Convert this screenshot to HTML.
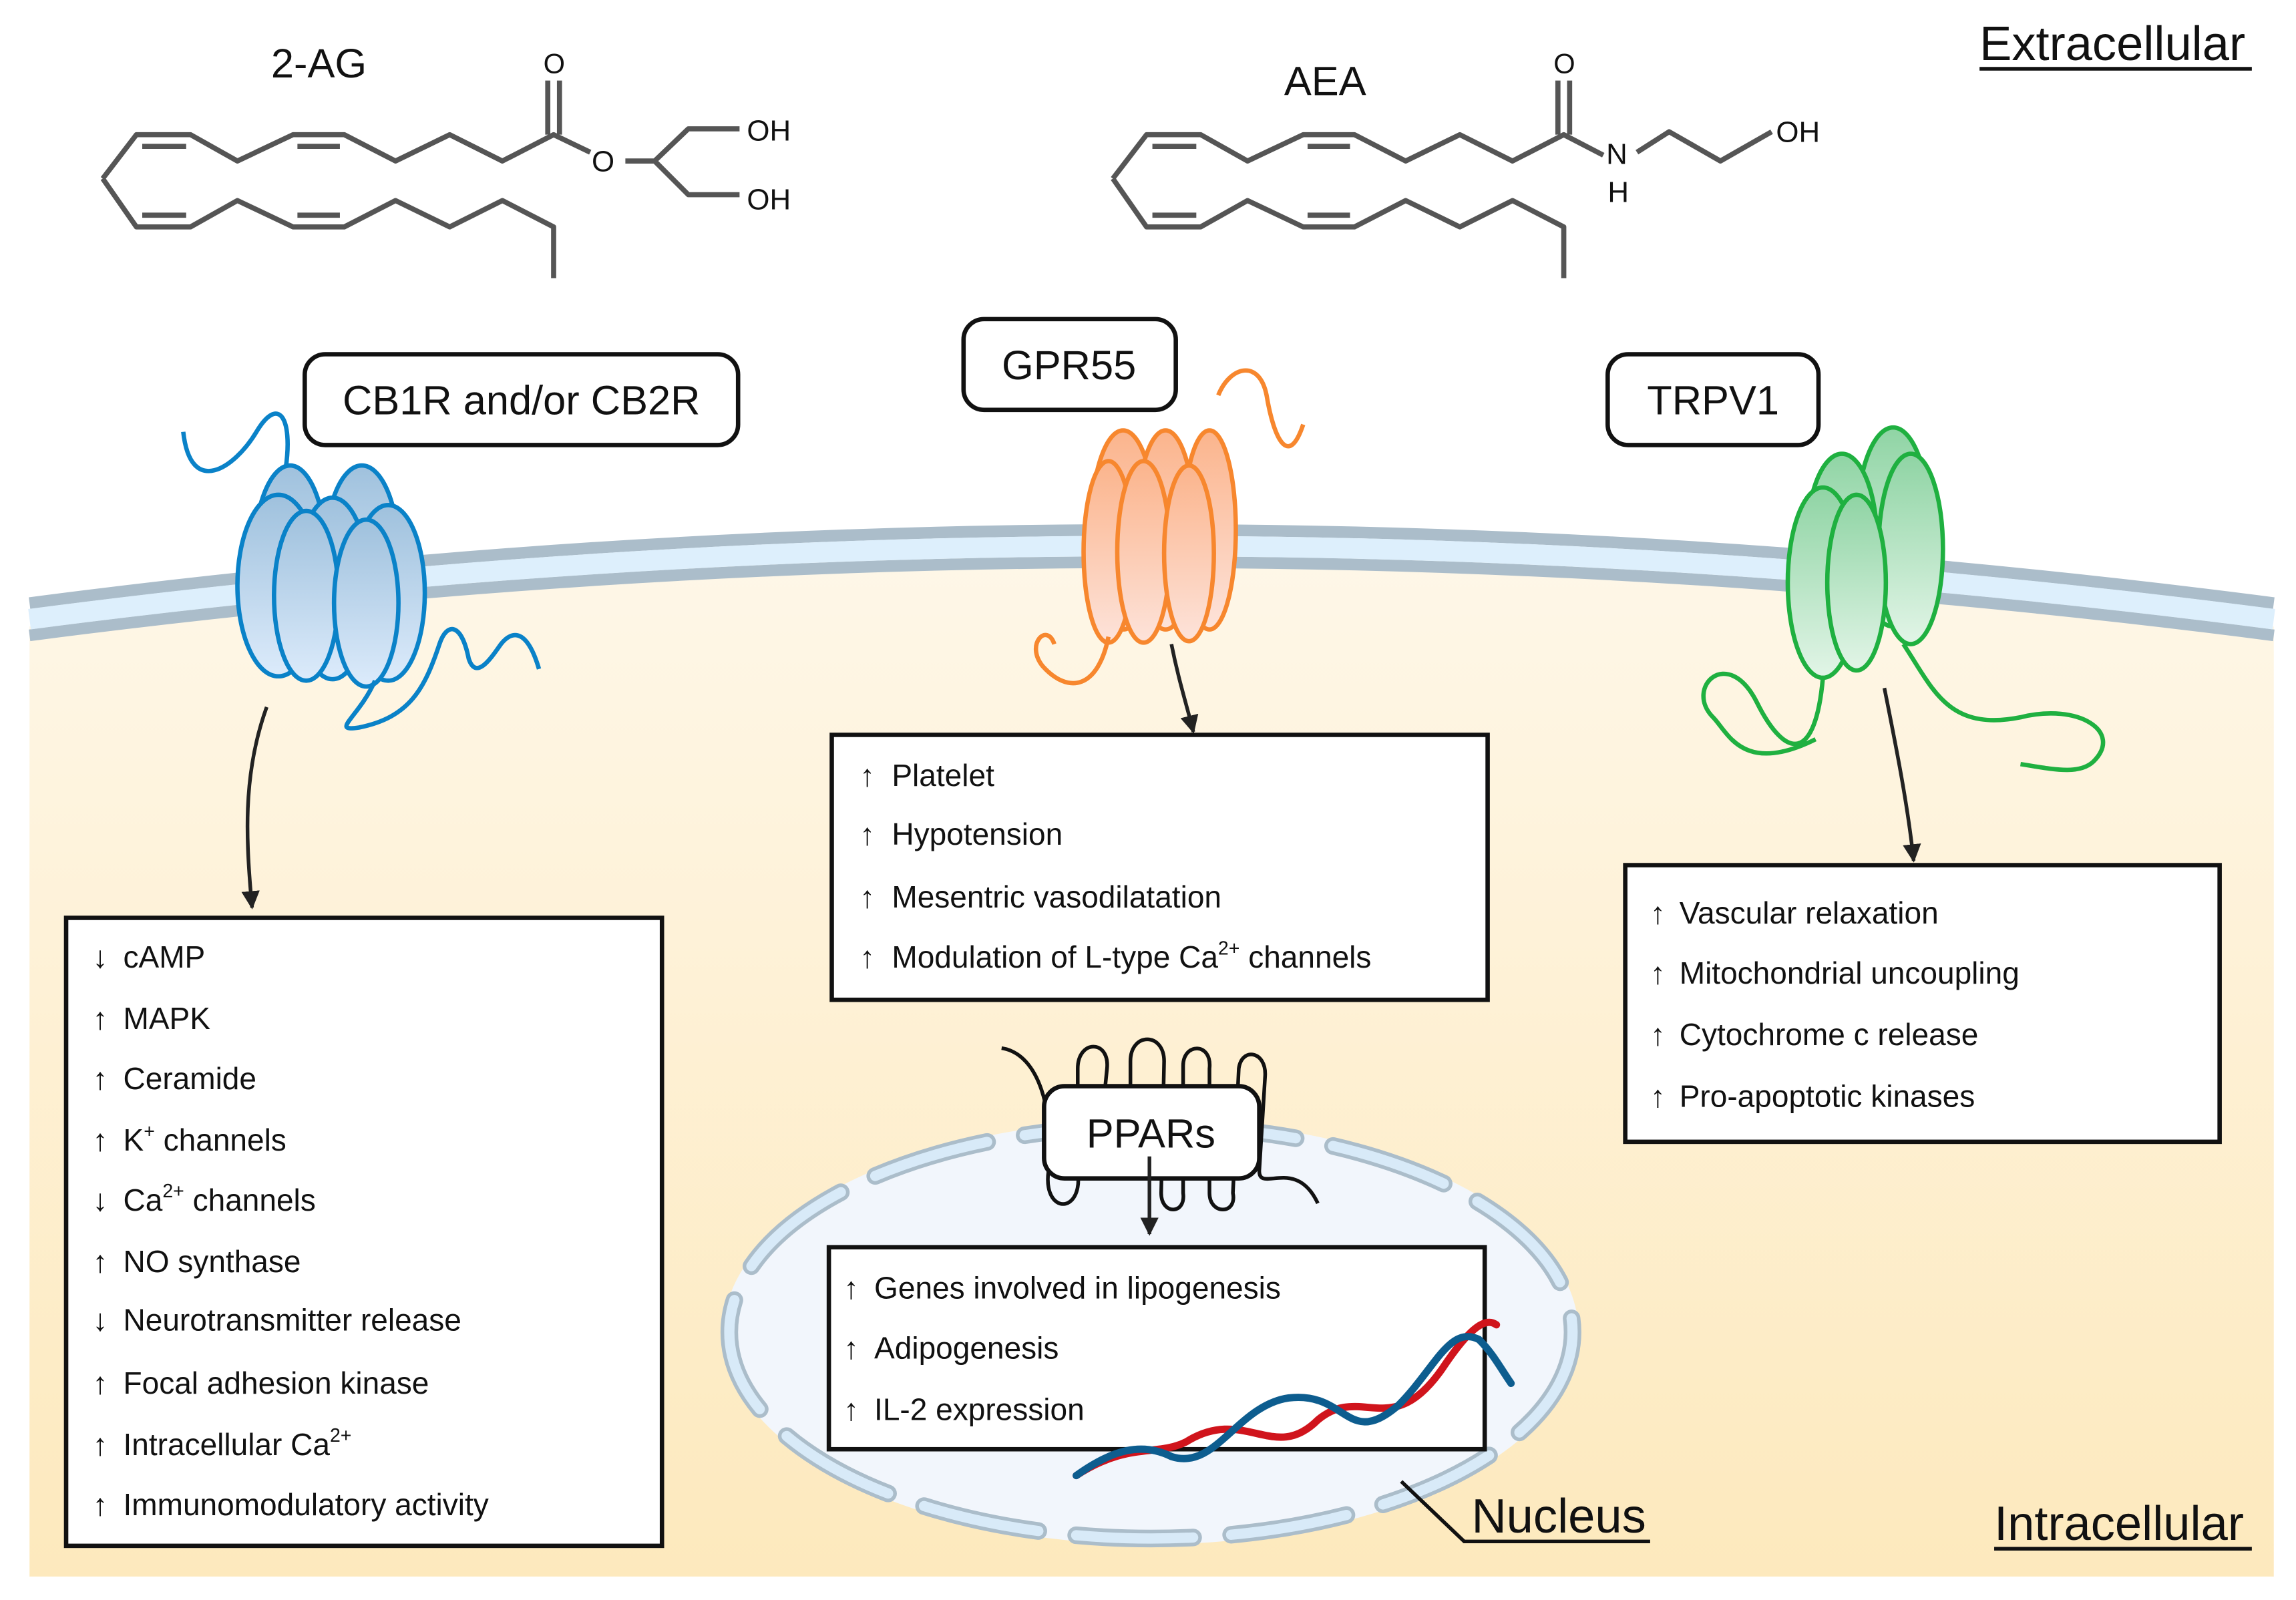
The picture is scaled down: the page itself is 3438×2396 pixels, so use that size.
<!DOCTYPE html>
<html><head><meta charset="utf-8"><style>
html,body{margin:0;padding:0;background:#fff}
svg{display:block}
text{font-family:"Liberation Sans",sans-serif;fill:#111}
</style></head><body>
<svg width="3438" height="2396" viewBox="0 0 1568 1093" xmlns="http://www.w3.org/2000/svg">
<defs>
<linearGradient id="cyto" x1="0" y1="0" x2="0" y2="1">
<stop offset="0" stop-color="#fef7e8"/><stop offset="1" stop-color="#fde9bd"/></linearGradient>
<linearGradient id="gb" x1="0" y1="0" x2="0" y2="1"><stop offset="0" stop-color="#9fc1dd"/><stop offset="1" stop-color="#dcebfb"/></linearGradient>
<linearGradient id="go" x1="0" y1="0" x2="0" y2="1"><stop offset="0" stop-color="#fbb48c"/><stop offset="1" stop-color="#fde3da"/></linearGradient>
<linearGradient id="gg" x1="0" y1="0" x2="0" y2="1"><stop offset="0" stop-color="#8fd4a4"/><stop offset="1" stop-color="#e2f5e7"/></linearGradient>
<marker id="ah" viewBox="0 0 10 10" refX="9" refY="5" markerWidth="5" markerHeight="5" orient="auto"><path d="M0,0 L10,5 L0,10 z" fill="#222"/></marker>
</defs>
<path d="M20,428 Q784,328 1553,428 L1553,1077 L20,1077 Z" fill="url(#cyto)"/>
<path d="M20,412 Q784,312 1553,412" fill="none" stroke="#abbdca" stroke-width="8"/>
<path d="M20,434 Q784,334 1553,434" fill="none" stroke="#abbdca" stroke-width="8"/>
<path d="M20,423 Q784,323 1553,423" fill="none" stroke="#ddeffc" stroke-width="14"/>

<g fill="none" stroke="#555" stroke-width="3.5" stroke-linejoin="round">
<path d="M70,122 L93,92 L130,92 L162,110 L200,92 L235,92 L270,110 L307,92 L343,110 L378,92 L403,104"/>
<path d="M97,100 L127,100 M203,100 L232,100"/>
<path d="M70,122 L93,155 L130,155 L162,137 L200,155 L235,155 L270,137 L307,155 L343,137 L378,155 L378,190"/>
<path d="M97,147 L127,147 M203,147 L232,147"/>
<path d="M374,92 L374,55 M382,92 L382,55"/>
<path d="M427,110 L447,110 L470,88 L505,88 M447,110 L470,133 L505,133"/>
<path d="M760,122 L783,92 L820,92 L852,110 L890,92 L925,92 L960,110 L997,92 L1033,110 L1068,92 L1095,106"/>
<path d="M787,100 L817,100 M893,100 L922,100"/>
<path d="M760,122 L783,155 L820,155 L852,137 L890,155 L925,155 L960,137 L997,155 L1033,137 L1068,155 L1068,190"/>
<path d="M787,147 L817,147 M893,147 L922,147"/>
<path d="M1064,92 L1064,55 M1072,92 L1072,55"/>
<path d="M1118,104 L1140,90 L1175,110 L1210,90"/>
</g>
<g font-size="20" fill="#333">
<text x="371" y="50" font-size="19">O</text><text x="404" y="117">O</text>
<text x="510" y="96">OH</text><text x="510" y="143">OH</text>
<text x="1061" y="50" font-size="19">O</text><text x="1097" y="112">N</text><text x="1098" y="138">H</text>
<text x="1213" y="97">OH</text>
</g>
<text x="185" y="53" font-size="28">2-AG</text>
<text x="877" y="65" font-size="28">AEA</text>
<text x="1352" y="41" font-size="33">Extracellular</text>
<line x1="1352" y1="47" x2="1538" y2="47" stroke="#111" stroke-width="2.5"/>
<text x="1362" y="1052" font-size="33">Intracellular</text>
<line x1="1362" y1="1058" x2="1538" y2="1058" stroke="#111" stroke-width="2.5"/>

<ellipse cx="786" cy="910" rx="292" ry="145" fill="#f2f6fc"/>
<ellipse cx="786" cy="910" rx="288" ry="141" fill="none" stroke="#abbdca" stroke-width="12" stroke-dasharray="80 26" stroke-linecap="round"/>
<ellipse cx="786" cy="910" rx="288" ry="141" fill="none" stroke="#d8eaf8" stroke-width="7" stroke-dasharray="80 26" stroke-linecap="round"/>
<rect x="566" y="852" width="448" height="138" fill="#fff" stroke="#111" stroke-width="3"/>
<g font-size="21">
<text x="576" y="887">↑</text><text x="597" y="887">Genes involved in lipogenesis</text>
<text x="576" y="928">↑</text><text x="597" y="928">Adipogenesis</text>
<text x="576" y="970">↑</text><text x="597" y="970">IL-2 expression</text></g>
<g fill="none" stroke-linecap="round">
<path d="M735,1008 C770,985 790,995 810,985 C850,960 870,1000 900,970 C930,945 950,985 985,935 C1005,905 1015,900 1022,905" stroke="#d0141c" stroke-width="5"/>
<path d="M735,1008 C760,990 780,985 800,995 C830,1005 845,960 880,955 C920,950 920,990 955,960 C980,935 990,905 1010,915 C1020,925 1025,935 1032,945" stroke="#0d5d8f" stroke-width="5"/>
</g>
<polyline points="957,1012 1000,1053 1127,1053" fill="none" stroke="#111" stroke-width="2.5"/>
<text x="1005" y="1047" font-size="33">Nucleus</text>

<path d="M684,716 C710,720 720,760 716,800 C712,830 740,830 736,800 L736,730 C736,710 758,710 756,730 L752,770 C750,785 770,785 772,770 L772,725 C772,705 795,705 795,725 L793,815 C793,830 810,830 808,815 L808,728 C808,712 828,712 826,730 L826,815 C826,830 845,830 842,815 L846,730 C848,715 865,718 864,735 L860,800 C860,815 885,790 900,822" fill="none" stroke="#111" stroke-width="2.5"/>
<rect x="713" y="742" width="147" height="63" rx="14" fill="#fff" stroke="#111" stroke-width="3"/>
<text x="786" y="784" font-size="28" text-anchor="middle">PPARs</text>
<line x1="785" y1="790" x2="785" y2="843" stroke="#222" stroke-width="2.5" marker-end="url(#ah)"/>

<g stroke="#0a82c8" stroke-width="3" fill="url(#gb)">
<path d="M125,295 C130,340 160,320 175,295 C190,270 200,285 195,320" fill="none"/>
<ellipse cx="247" cy="378" rx="25" ry="60"/>
<ellipse cx="198" cy="383" rx="25" ry="65"/>
<ellipse cx="190" cy="400" rx="28" ry="62"/>
<ellipse cx="227" cy="402" rx="25" ry="62"/>
<ellipse cx="209" cy="407" rx="22" ry="58"/>
<ellipse cx="265" cy="405" rx="25" ry="60"/>
<ellipse cx="250" cy="412" rx="22" ry="57"/>
<path d="M256,465 C245,490 225,500 245,497 C280,490 290,470 300,440 C305,425 315,425 320,450 C325,465 335,450 342,440 C350,430 360,430 368,457" fill="none"/>
</g>
<path d="M182,483 C165,530 168,575 172,620" fill="none" stroke="#222" stroke-width="2.5" marker-end="url(#ah)"/>
<rect x="208" y="242" width="296" height="62" rx="14" fill="#fff" stroke="#111" stroke-width="3"/>
<text x="356" y="283" font-size="28" text-anchor="middle">CB1R and/or CB2R</text>
<rect x="45" y="627" width="407" height="429" fill="#fff" stroke="#111" stroke-width="3"/>
<g font-size="21">
<text x="63" y="661">↓</text><text x="84" y="661">cAMP</text>
<text x="63" y="703">↑</text><text x="84" y="703">MAPK</text>
<text x="63" y="744">↑</text><text x="84" y="744">Ceramide</text>
<text x="63" y="786">↑</text><text x="84" y="786">K<tspan font-size="13" dy="-9">+</tspan><tspan dy="9"> channels</tspan></text>
<text x="63" y="827">↓</text><text x="84" y="827">Ca<tspan font-size="13" dy="-9">2+</tspan><tspan dy="9"> channels</tspan></text>
<text x="63" y="869">↑</text><text x="84" y="869">NO synthase</text>
<text x="63" y="909">↓</text><text x="84" y="909">Neurotransmitter release</text>
<text x="63" y="952">↑</text><text x="84" y="952">Focal adhesion kinase</text>
<text x="63" y="994">↑</text><text x="84" y="994">Intracellular Ca<tspan font-size="13" dy="-9">2+</tspan></text>
<text x="63" y="1035">↑</text><text x="84" y="1035">Immunomodulatory activity</text>
</g>

<g stroke="#f7872e" stroke-width="3" fill="url(#go)">
<path d="M832,270 C840,250 860,245 865,270 C870,300 880,320 890,290" fill="none"/>
<ellipse cx="767" cy="362" rx="22" ry="68"/>
<ellipse cx="796" cy="362" rx="20" ry="68"/>
<ellipse cx="826" cy="362" rx="18" ry="68"/>
<ellipse cx="757" cy="377" rx="17" ry="62"/>
<ellipse cx="781" cy="377" rx="18" ry="62"/>
<ellipse cx="812" cy="378" rx="17" ry="60"/>
<path d="M757,435 C750,470 730,475 712,455 C700,440 715,425 720,440" fill="none"/>
</g>
<path d="M800,440 C805,465 810,480 815,500" fill="none" stroke="#222" stroke-width="2.5" marker-end="url(#ah)"/>
<rect x="658" y="218" width="145" height="62" rx="14" fill="#fff" stroke="#111" stroke-width="3"/>
<text x="730" y="259" font-size="28" text-anchor="middle">GPR55</text>
<rect x="568" y="502" width="448" height="181" fill="#fff" stroke="#111" stroke-width="3"/>
<g font-size="21">
<text x="587" y="537">↑</text><text x="609" y="537">Platelet</text>
<text x="587" y="577">↑</text><text x="609" y="577">Hypotension</text>
<text x="587" y="620">↑</text><text x="609" y="620">Mesentric vasodilatation</text>
<text x="587" y="661">↑</text><text x="609" y="661">Modulation of L-type Ca<tspan font-size="13" dy="-9">2+</tspan><tspan dy="9"> channels</tspan></text>
</g>

<g stroke="#1fb040" stroke-width="3" fill="url(#gg)">
<ellipse cx="1293" cy="360" rx="25" ry="68"/>
<ellipse cx="1305" cy="375" rx="22" ry="65"/>
<ellipse cx="1258" cy="370" rx="24" ry="60"/>
<ellipse cx="1245" cy="398" rx="24" ry="65"/>
<ellipse cx="1268" cy="398" rx="20" ry="60"/>
<path d="M1245,463 C1240,520 1220,520 1200,480 C1180,440 1150,470 1170,490 C1180,500 1190,530 1240,505 M1300,440 C1320,470 1330,500 1380,490 C1420,480 1450,500 1430,520 C1420,530 1400,525 1380,522" fill="none"/>
</g>
<path d="M1287,470 C1295,510 1303,550 1307,588" fill="none" stroke="#222" stroke-width="2.5" marker-end="url(#ah)"/>
<rect x="1098" y="242" width="144" height="62" rx="14" fill="#fff" stroke="#111" stroke-width="3"/>
<text x="1170" y="283" font-size="28" text-anchor="middle">TRPV1</text>
<rect x="1110" y="591" width="406" height="189" fill="#fff" stroke="#111" stroke-width="3"/>
<g font-size="21">
<text x="1127" y="631">↑</text><text x="1147" y="631">Vascular relaxation</text>
<text x="1127" y="672">↑</text><text x="1147" y="672">Mitochondrial uncoupling</text>
<text x="1127" y="714">↑</text><text x="1147" y="714">Cytochrome c release</text>
<text x="1127" y="756">↑</text><text x="1147" y="756">Pro-apoptotic kinases</text>
</g>
</svg>
</body></html>
